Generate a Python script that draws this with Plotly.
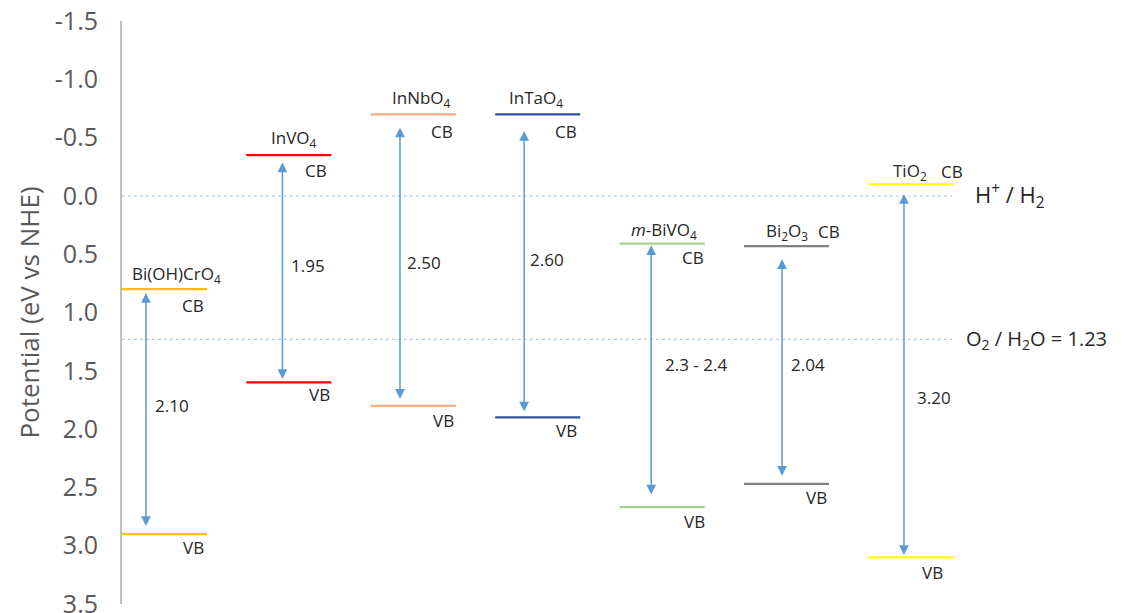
import plotly.graph_objects as go

# ---------------- data ----------------
materials = ["Bi(OH)CrO<sub>4</sub>", "InVO<sub>4</sub>", "InNbO<sub>4</sub>", "InTaO<sub>4</sub>",
             "<i>m</i>-BiVO<sub>4</sub>", "Bi<sub>2</sub>O<sub>3</sub>", "TiO<sub>2</sub>"]
cb_levels = [0.80, -0.35, -0.70, -0.70, 0.41, 0.43, -0.10]
vb_levels = [2.90, 1.60, 1.80, 1.90, 2.67, 2.47, 3.10]
gap_labels = ["2.10", "1.95", "2.50", "2.60", "2.3 - 2.4", "2.04", "3.20"]
ref_potentials = [0.0, 1.23]
ref_labels = ["H<sup>+</sup> / H<sub>2</sub>", "O<sub>2</sub> / H<sub>2</sub>O = 1.23"]
y_ticks = [-1.5, -1.0, -0.5, 0.0, 0.5, 1.0, 1.5, 2.0, 2.5, 3.0, 3.5]

# ---------------- styling / layout helpers ----------------
colors = ["#FFC000", "#FF0000", "#F4B183", "#2F5597", "#A9D18E", "#808080", "#FFFF00"]
half_w = 0.342                      # half length of a level line (x units)
arrow_dx = [-0.149, -0.052, -0.107, -0.109, -0.088, -0.036, -0.056]
arrow_in_top = [0.02, 0.05, 0.10, 0.13, 0.0, 0.10, 0.07]
arrow_in_bot = [0.07, 0.03, 0.06, 0.05, 0.11, 0.07, 0.02]
name_shift = [(11.5, 15), (5, 16.5), (7.7, 15.7), (-1.7, 15.7), (2, 13.3), (0, 14.6), (-1, 12.7)]
cb_shift = [(28.5, -16.7), (27, -15.7), (28.4, -17), (28.3, -17), (31, -13.3), (42.5, 14.6), (41, 12.7)]
vb_shift = [(28.5, -13), (31, -12.4), (30, -14.4), (28.3, -12.7), (32, -14.3), (30, -13.3), (22, -15)]
gap_label_y = [1.80, 0.60, 0.571, 0.543, 1.443, 1.443, 1.729]
gap_label_dx = [7, 7, 5, 4, 11.7, 7, 11]
ref_line_end = 6.33
ref_label_x = [6.50, 6.43]
ref_label_size = [22, 20]

FONT = "Open Sans"
TXT = "#262626"
LBL = 17

fig = go.Figure()

# reference potentials (dotted)
for p in ref_potentials:
    fig.add_trace(go.Scatter(x=[-0.342, ref_line_end], y=[p, p], mode="lines",
                             line=dict(color="#9DC3E6", width=1, dash="dot"),
                             hoverinfo="skip", showlegend=False))

# band levels
for i, (cb, vb, c) in enumerate(zip(cb_levels, vb_levels, colors)):
    for lvl in (cb, vb):
        fig.add_trace(go.Scatter(x=[i - half_w, i + half_w], y=[lvl, lvl], mode="lines",
                                 line=dict(color=c, width=2.2),
                                 hoverinfo="skip", showlegend=False))

ann = []
for i, name in enumerate(materials):
    cb, vb = cb_levels[i], vb_levels[i]
    ax_x = i + arrow_dx[i]
    # double-headed arrow
    ann.append(dict(x=ax_x, y=vb - arrow_in_bot[i], ax=ax_x, ay=cb + arrow_in_top[i],
                    xref="x", yref="y", axref="x", ayref="y", text="",
                    showarrow=True, arrowside="end+start", arrowhead=2, startarrowhead=2,
                    arrowsize=1.3, startarrowsize=1.3, arrowwidth=1.5, arrowcolor="#5B9BD5",
                    standoff=0, startstandoff=0))
    ann.append(dict(x=i, y=cb, text=name, showarrow=False, xshift=name_shift[i][0],
                    yshift=name_shift[i][1], font=dict(family=FONT, size=LBL, color=TXT)))
    ann.append(dict(x=i, y=cb, text="CB", showarrow=False, xshift=cb_shift[i][0],
                    yshift=cb_shift[i][1], font=dict(family=FONT, size=LBL, color=TXT)))
    ann.append(dict(x=i, y=vb, text="VB", showarrow=False, xshift=vb_shift[i][0],
                    yshift=vb_shift[i][1], font=dict(family=FONT, size=LBL, color=TXT)))
    ann.append(dict(x=ax_x, y=gap_label_y[i], text=gap_labels[i], showarrow=False,
                    xanchor="left", xshift=gap_label_dx[i],
                    font=dict(family=FONT, size=LBL, color=TXT)))

for p, t, lx, fs in zip(ref_potentials, ref_labels, ref_label_x, ref_label_size):
    ann.append(dict(x=lx, y=p, text=t, showarrow=False, xanchor="left",
                    font=dict(family=FONT, size=fs, color=TXT)))

fig.update_layout(
    width=1130, height=613,
    margin=dict(l=122, r=0, t=21, b=9, autoexpand=False),
    paper_bgcolor="white", plot_bgcolor="white",
    annotations=ann,
    xaxis=dict(range=[-0.3416, 7.761], visible=False, fixedrange=True, automargin=False),
    yaxis=dict(range=[3.5, -1.5], tickvals=y_ticks, automargin=False, fixedrange=True,
               ticktext=[f"{v:.1f}" for v in y_ticks],
               showgrid=False, zeroline=False, showline=True,
               linecolor="#BFBFBF", linewidth=2, ticks="",
               ticklabelstandoff=17, ticklabeloverflow="allow",
               tickfont=dict(family=FONT, size=25, color="#595959"),
               title=dict(text="Potential (eV vs NHE)", standoff=8,
                          font=dict(family=FONT, size=26, color="#595959"))),
)

fig.write_html("out.html", config={"displayModeBar": False},
               post_script="document.body.style.margin='0';")
